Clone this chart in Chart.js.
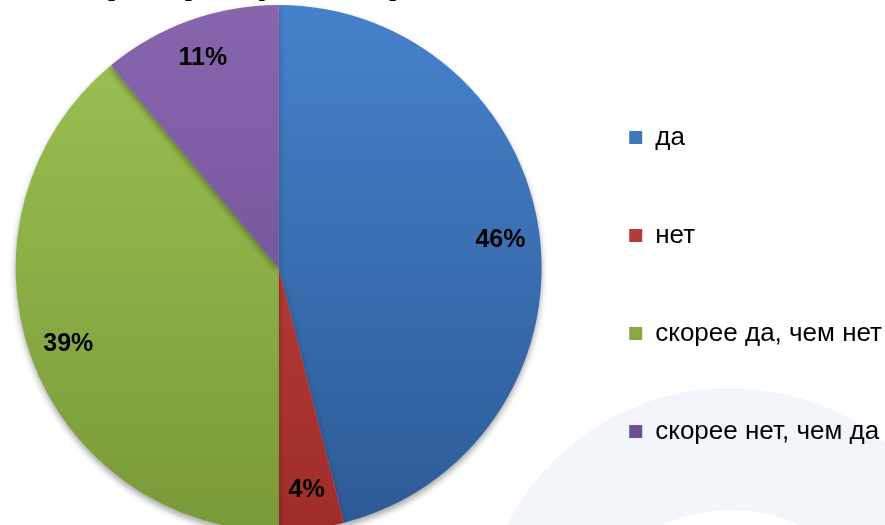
<!DOCTYPE html>
<html>
<head>
<meta charset="utf-8">
<script src="https://cdn.jsdelivr.net/npm/chart.js@4.4.1/dist/chart.umd.min.js"></script>
<style>
  html, body { margin: 0; padding: 0; background: #fff; overflow: hidden; }
  #wrap { width: 885px; height: 525px; position: relative; }
</style>
</head>
<body>
<div id="wrap"><canvas id="myChart"></canvas></div>
<script>
const labels = ['да', 'нет', 'скорее да, чем нет', 'скорее нет, чем да'];
const values = [46, 4, 39, 11];
const topColors = ['#4682cb', '#c9443f', '#9fc354', '#8866ae'];
const bottomColors = ['#2d5b97', '#9e2d29', '#799a38', '#684a8d'];
const titleText = '(в процентах)';

const FONT = '"Liberation Sans", Arial, sans-serif';

// light ring in the lower right corner, as on the slide background
const slideBg = {
  id: 'slideBg',
  beforeDraw(chart) {
    const c = chart.ctx;
    c.save();
    c.fillStyle = '#ffffff';
    c.fillRect(0, 0, chart.width, chart.height);
    c.fillStyle = '#f2f5fa';
    c.beginPath();
    c.arc(730, 638, 250, 0, Math.PI * 2);
    c.fill();
    c.fillStyle = '#ffffff';
    c.beginPath();
    c.arc(731, 672, 162, 0, Math.PI * 2);
    c.fill();
    // title, almost all of it above the top edge
    c.fillStyle = '#000';
    c.font = 'bold 45px ' + FONT;
    c.textAlign = 'left';
    c.textBaseline = 'alphabetic';
    c.fillText(titleText, 100, -8);
    c.restore();
  }
};

const pieShadow = {
  id: 'pieShadow',
  beforeDatasetsDraw(chart) {
    const c = chart.ctx;
    c.save();
    c.shadowColor = 'rgba(0,0,0,0.35)';
    c.shadowBlur = 6;
    c.shadowOffsetY = 4;
  },
  afterDatasetsDraw(chart) {
    chart.ctx.restore();
  }
};

const pctLabels = {
  id: 'pctLabels',
  afterDatasetsDraw(chart) {
    const c = chart.ctx;
    const meta = chart.getDatasetMeta(0);
    const total = values.reduce((a, b) => a + b, 0);
    c.save();
    c.font = 'bold 25px ' + FONT;
    c.fillStyle = '#000';
    c.textAlign = 'center';
    c.textBaseline = 'middle';
    meta.data.forEach((arc, i) => {
      const p = arc.getProps(['x', 'y', 'startAngle', 'endAngle', 'outerRadius'], true);
      const mid = (p.startAngle + p.endAngle) / 2;
      const r = p.outerRadius * 0.85;
      c.fillText(Math.round(values[i] / total * 100) + '%', p.x + Math.cos(mid) * r, p.y + Math.sin(mid) * r);
    });
    c.restore();
  }
};

function sliceColor(ctx) {
  const i = ctx.dataIndex;
  const area = ctx.chart.chartArea;
  if (!area) return topColors[i];
  const g = ctx.chart.ctx.createLinearGradient(0, 0, 0, 525);
  g.addColorStop(0, topColors[i]);
  g.addColorStop(1, bottomColors[i]);
  return g;
}

const ch = new Chart(document.getElementById('myChart'), {
  type: 'pie',
  data: {
    labels: labels,
    datasets: [{
      data: values,
      backgroundColor: sliceColor,
      borderWidth: 0,
      radius: 263
    }]
  },
  options: {
    responsive: true,
    maintainAspectRatio: false,
    animation: false,
    layout: { padding: { left: -6, right: -7, top: 11, bottom: 0 } },
    plugins: {
      tooltip: { enabled: false },
      legend: {
        position: 'right',
        align: 'center',
        title: { display: true, text: '', font: { size: 10 }, padding: { top: 0, bottom: 21 } },
        labels: {
          boxWidth: 13,
          boxHeight: 13,
          padding: 72,
          color: '#000',
          font: { size: 26, family: FONT }
        }
      }
    }
  },
  plugins: [slideBg, pieShadow, pctLabels]
});
</script>
</body>
</html>
